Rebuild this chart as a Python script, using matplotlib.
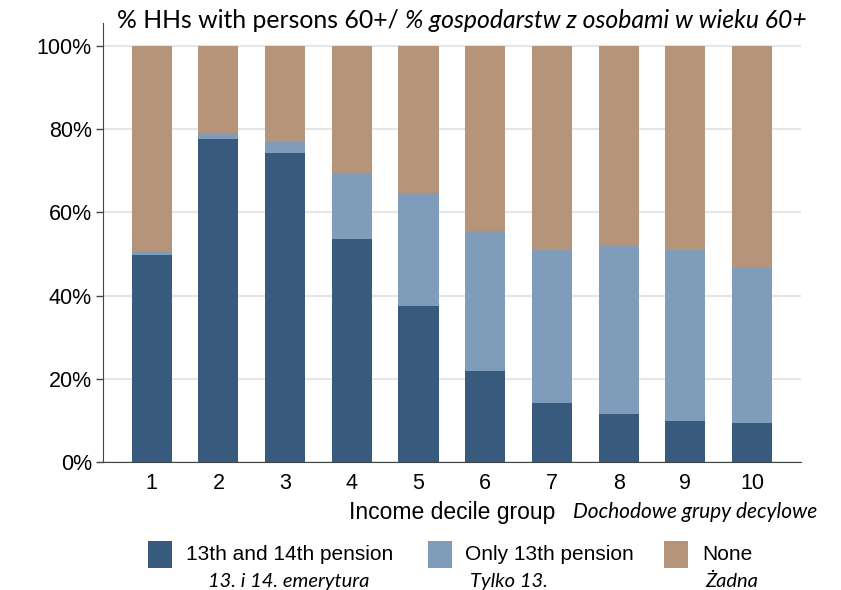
import numpy as np
import matplotlib
matplotlib.use("Agg")
import matplotlib.pyplot as plt
from matplotlib.patches import Rectangle

## Data
deciles = ["1", "2", "3", "4", "5", "6", "7", "8", "9", "10"]
both_pensions = [49.8, 77.6, 74.3, 53.5, 37.6, 21.9, 14.2, 11.6, 9.9, 9.3]
any_pension = [50.6, 79.1, 77.0, 69.4, 64.6, 55.4, 51.0, 52.2, 51.0, 46.7]
only_13th = [a - b for a, b in zip(any_pension, both_pensions)]
none = [100 - a for a in any_pension]

series_en = ["13th and 14th pension", "Only 13th pension", "None"]
series_pl = ["13. i 14. emerytura", "Tylko 13.", "Żadna"]
colors = ["#385a7c", "#7f9dbb", "#b5947a"]

narrow = ["Liberation Sans Narrow", "Liberation Sans", "DejaVu Sans"]
calib = ["Lato", "DejaVu Sans"]

fig = plt.figure(figsize=(8.41, 5.90), dpi=100)
ax = fig.add_axes([103 / 841, 1 - 462 / 590, (800.7 - 103) / 841, (462 - 23) / 590])

x = np.arange(1, len(deciles) + 1)
bottom = np.zeros(len(deciles))
for vals, c in zip([both_pensions, only_13th, none], colors):
    ax.bar(x, vals, width=0.6, bottom=bottom, color=c, zorder=2)
    bottom += np.array(vals)

ax.set_xlim(0.27, 10.73)
ax.set_ylim(0, 105.5)
ax.set_yticks(range(0, 101, 20))
ax.set_yticklabels(["{}%".format(v) for v in range(0, 101, 20)])
ax.set_xticks(x)
ax.set_xticklabels(deciles)
for lab in ax.get_xticklabels() + ax.get_yticklabels():
    lab.set_family(narrow)
    lab.set_fontsize(15.5)
ax.tick_params(axis="x", length=0, pad=8)
ax.tick_params(axis="y", length=5, width=1, color="#444444", pad=3)
ax.yaxis.grid(True, color="#e6e6e6", linewidth=1.5, zorder=0)
for s in ["top", "right"]:
    ax.spines[s].set_visible(False)
ax.spines["left"].set_color("#444444")
ax.spines["bottom"].set_color("#444444")

## Title, two styles side by side
fig.canvas.draw()
r = fig.canvas.get_renderer()
t1 = fig.text(117 / 841, 1 - 20 / 590, "% HHs with persons 60+/ ", family=calib,
              fontsize=17.8, va="center", ha="left")
bb = t1.get_window_extent(r)
fig.text(bb.x1 / fig.bbox.width, 1 - 20 / 590, "% gospodarstw z osobami w wieku 60+",
         family=calib, style="italic", fontsize=17.8, va="center", ha="left")

## x axis label
fig.text(555 / 841, 1 - 512 / 590, "Income decile group", family=narrow,
         fontsize=16.5, va="center", ha="right")
fig.text(573 / 841, 1 - 512 / 590, "Dochodowe grupy decylowe", family=calib,
         style="italic", fontsize=15, va="center", ha="left")

## Legend by hand
sq_x = [148, 428, 664]
en_x = [186, 465, 702]
pl_x = [208, 470, 705]
for i in range(3):
    fig.patches.append(Rectangle((sq_x[i] / 841, 1 - 568 / 590), 24 / 841, 27 / 590,
                                 transform=fig.transFigure, facecolor=colors[i],
                                 edgecolor="none"))
    fig.text(en_x[i] / 841, 1 - 555 / 590, series_en[i], family=narrow,
             fontsize=15, va="center", ha="left")
    fig.text(pl_x[i] / 841, 1 - 581 / 590, series_pl[i], family=calib,
             style="italic", fontsize=14.5, va="center", ha="left")

fig.savefig("out.png", dpi=100)
